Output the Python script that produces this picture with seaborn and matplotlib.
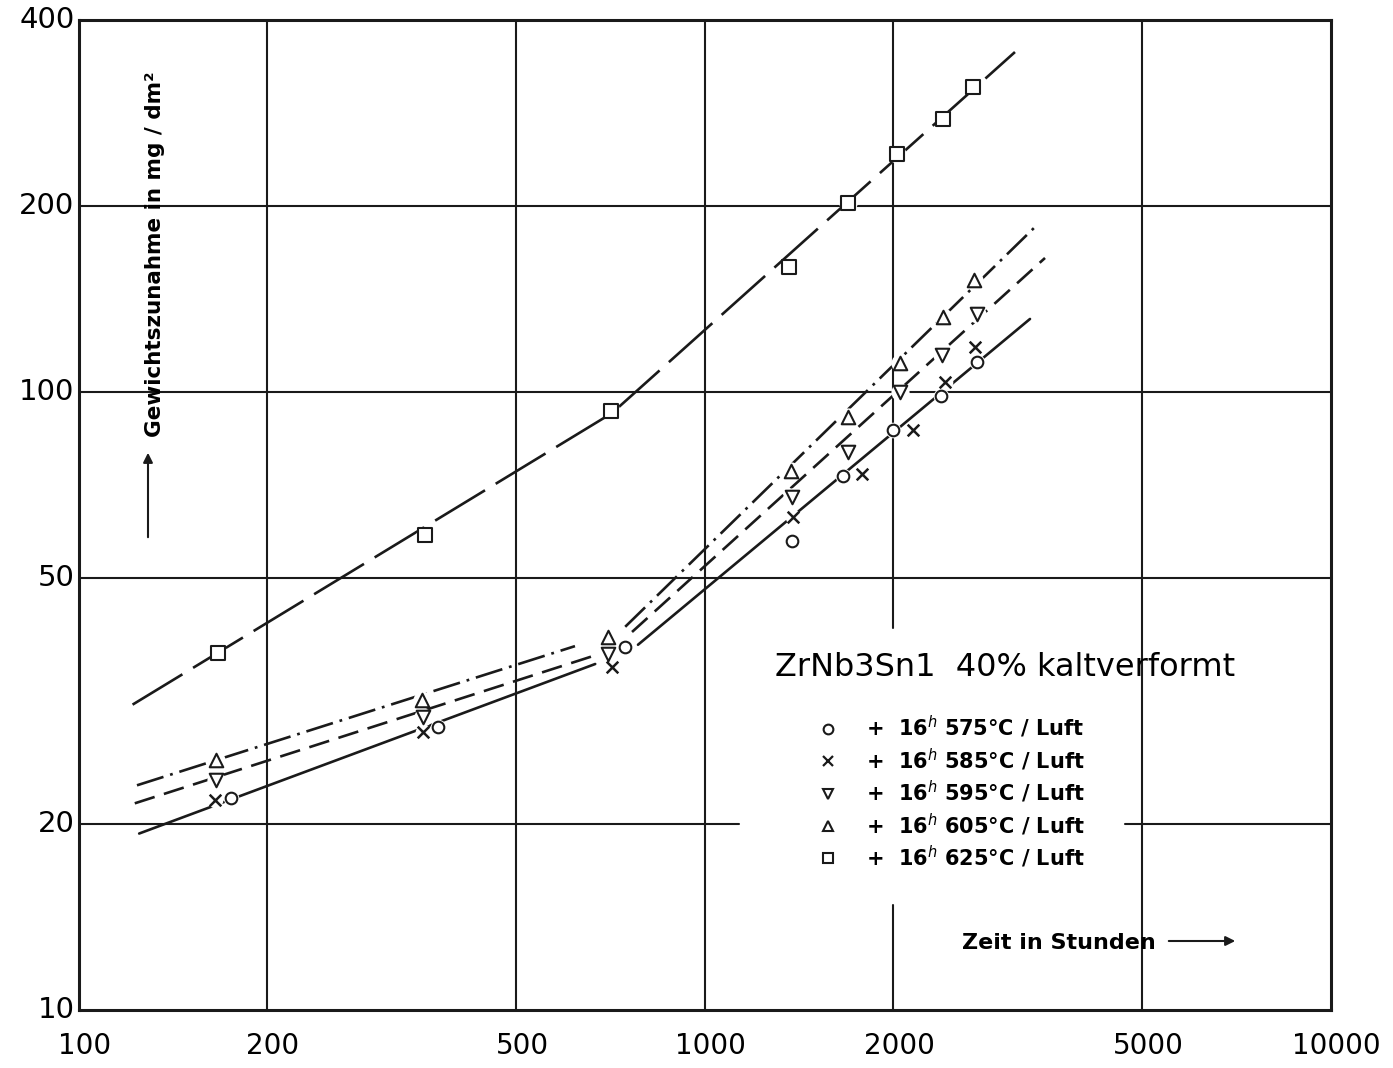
import numpy as np
import pandas as pd
import matplotlib
matplotlib.use("Agg")
import matplotlib.pyplot as plt
import matplotlib.transforms as mtransforms
from matplotlib.lines import Line2D
from matplotlib.font_manager import FontProperties
import seaborn as sns

# ---------------- data ----------------
t_575 = [175, 375, 746, 1380, 1665, 2000, 2386, 2725]
w_575 = [22.0, 28.7, 38.7, 57.4, 73.1, 86.8, 98.5, 111.8]
t_585 = [165, 355, 711, 1385, 1785, 2153, 2423, 2705]
w_585 = [21.9, 28.2, 35.9, 62.8, 73.7, 86.8, 103.8, 118.3]
t_595 = [166, 355, 701, 1380, 1695, 2053, 2395, 2725]
w_595 = [23.6, 29.8, 37.7, 67.6, 80.0, 100.0, 114.8, 133.7]
t_605 = [166, 354, 701, 1375, 1695, 2053, 2404, 2695]
w_605 = [25.4, 31.7, 40.1, 74.5, 91.1, 111.4, 132.2, 151.8]
t_625 = [167, 358, 709, 1365, 1695, 2030, 2404, 2685]
w_625 = [37.8, 58.7, 93.2, 159.3, 202.0, 243.0, 276.6, 311.6]

# fitted lines (segment end points)
fit_575_lo_t = [125, 669]
fit_575_lo_w = [19.3, 36.3]
fit_575_hi_t = [783, 3311]
fit_575_hi_w = [39.0, 131.3]
fit_595_lo_t = [123, 664]
fit_595_lo_w = [21.6, 37.4]
fit_595_hi_t = [766, 3499]
fit_595_hi_w = [40.9, 164.8]
fit_605_lo_t = [124, 621]
fit_605_lo_w = [23.1, 38.8]
fit_605_hi_t = [747, 3397]
fit_605_hi_w = [41.7, 186.3]
fit_625_t = [122, 712, 3133]
fit_625_w = [31.2, 92.5, 355.0]

legend_labels = [r"+  16$^{h}$ 575°C / Luft", r"+  16$^{h}$ 585°C / Luft",
                 r"+  16$^{h}$ 595°C / Luft", r"+  16$^{h}$ 605°C / Luft",
                 r"+  16$^{h}$ 625°C / Luft"]
title_text = "ZrNb3Sn1  40% kaltverformt"
x_ticks = [100, 200, 500, 1000, 2000, 5000, 10000]
x_ticklabels = ["100", "200", "500", "1000", "2000", "5000", "10000"]
y_ticks = [10, 20, 50, 100, 200, 400]
y_ticklabels = ["10", "20", "50", "100", "200", "400"]
x_grid = [200, 500, 1000, 2000, 5000]
y_grid = [20, 50, 100, 200]
xlabel_text = "Zeit in Stunden"
ylabel_text = "Gewichtszunahme in mg / dm²"

# ---------------- style ----------------
sns.set_theme(style="white", rc={"text.color": "black", "axes.labelcolor": "black",
                                 "xtick.color": "black", "ytick.color": "black",
                                 "axes.edgecolor": "black"})
plt.rcParams["font.family"] = ["DejaVu Sans"]
plt.rcParams["lines.scale_dashes"] = False

W, H = 1393, 1068
fig = plt.figure(figsize=(W / 100, H / 100), dpi=100)
fig.patch.set_facecolor("white")
x0, x1, ytop, ybot = 78.5, 1330.5, 20, 1010
ax = fig.add_axes([x0 / W, 1 - ybot / H, (x1 - x0) / W, (ybot - ytop) / H])
ax.set_facecolor("white")
ax.set_xscale("log")
ax.set_yscale("log")
ax.set_xlim(100, 10000)
ax.set_ylim(10, 400)

# grid lines (some interrupted around the legend as in the original)
def yfrac(v):
    return (np.log10(v) - 1) / np.log10(40)

def xfrac(v):
    return (np.log10(v) - 2) / 2

glw = 1.5
for gx in x_grid:
    if gx == 2000:
        ax.axvline(gx, 0, yfrac(14.8), color="k", lw=glw, zorder=1)
        ax.axvline(gx, yfrac(41.5), 1, color="k", lw=glw, zorder=1)
    else:
        ax.axvline(gx, color="k", lw=glw, zorder=1)
for gy in y_grid:
    if gy == 20:
        ax.axhline(gy, 0, xfrac(1137), color="k", lw=glw, zorder=1)
        ax.axhline(gy, xfrac(4696), 1, color="k", lw=glw, zorder=1)
    else:
        ax.axhline(gy, color="k", lw=glw, zorder=1)

for s in ax.spines.values():
    s.set_color("k")
    s.set_linewidth(2.2)

# fitted lines
lw = 1.9
solid = "-"
dashed = (0, (15, 7))
dashdot = (0, (20, 5, 2, 5))
longdash = (0, (42, 9))
segs = [
    (fit_575_lo_t, fit_575_lo_w, solid),
    (fit_575_hi_t, fit_575_hi_w, solid),
    (fit_595_lo_t, fit_595_lo_w, dashed),
    (fit_595_hi_t, fit_595_hi_w, dashed),
    (fit_605_lo_t, fit_605_lo_w, dashdot),
    (fit_605_hi_t, fit_605_hi_w, dashdot),
    (fit_625_t, fit_625_w, longdash),
]
for tx, wy, ls in segs:
    sns.lineplot(x=tx, y=wy, ax=ax, color="k", lw=lw, linestyle=ls,
                 estimator=None, sort=False, zorder=2)

# markers with white halos (cut the fitted lines like in the original)
series = [
    (t_575, w_575, "o", 70),
    (t_585, w_585, "x", 70),
    (t_595, w_595, "v", 95),
    (t_605, w_605, "^", 95),
    (t_625, w_625, "s", 95),
]
for tx, wy, m, s in series:
    sns.scatterplot(x=tx, y=wy, ax=ax, marker="o", s=s * 1.8, color="white",
                    edgecolor="white", linewidth=0, zorder=2.5)
for tx, wy, m, s in series:
    if m == "x":
        sns.scatterplot(x=tx, y=wy, ax=ax, marker="x", s=s, color="k",
                        linewidth=1.8, zorder=4)
    else:
        sns.scatterplot(x=tx, y=wy, ax=ax, marker=m, s=s, facecolor="white",
                        edgecolor="k", linewidth=1.5, zorder=4)

# ticks
ax.set_xticks(x_ticks)
ax.set_xticklabels(x_ticklabels)
ax.set_yticks(y_ticks)
ax.set_yticklabels(y_ticklabels)
ax.minorticks_off()
ax.tick_params(axis="both", length=0)
ax.tick_params(axis="x", pad=16)
ax.tick_params(axis="y", pad=3)
for lab in ax.get_xticklabels():
    lab.set_fontsize(20)
    lab.set_transform(lab.get_transform() +
                      mtransforms.ScaledTranslation(6 / 100, 0, fig.dpi_scale_trans))
for lab in ax.get_yticklabels():
    lab.set_fontsize(21)
    lab.set_verticalalignment("center")

ax.set_xlabel("")
ax.set_ylabel("")

# axis captions with arrows
fig.text(155 / W, 1 - 437 / H, ylabel_text, rotation=90, ha="center", va="bottom",
         fontsize=15.5, fontweight="bold")
ax.annotate("", xy=(148 / W, 1 - 450 / H), xytext=(148 / W, 1 - 540 / H),
            xycoords="figure fraction", textcoords="figure fraction",
            arrowprops=dict(arrowstyle="-|>", color="k", lw=1.5, mutation_scale=14))
fig.text(962 / W, 1 - 943 / H, xlabel_text, ha="left", va="center",
         fontsize=16, fontweight="bold")
ax.annotate("", xy=(1238 / W, 1 - 941 / H), xytext=(1166 / W, 1 - 941 / H),
            xycoords="figure fraction", textcoords="figure fraction",
            arrowprops=dict(arrowstyle="-|>", color="k", lw=1.5, mutation_scale=14))

# legend
fig.text(775 / W, 1 - 667 / H, title_text, ha="left", va="center", fontsize=23)
handles = []
for tx, wy, m, s in series:
    if m == "x":
        handles.append(Line2D([], [], ls="none", marker="x", ms=7, mec="k", mew=1.6))
    else:
        handles.append(Line2D([], [], ls="none", marker=m, ms=7, mfc="white",
                              mec="k", mew=1.5))
leg = fig.legend(handles, legend_labels, loc="upper left",
                 bbox_to_anchor=(818 / W, 1 - 714 / H), bbox_transform=fig.transFigure,
                 frameon=False, prop=FontProperties(weight="bold", size=15),
                 handlelength=1.0, handletextpad=1.3, labelspacing=0.3,
                 borderpad=0, borderaxespad=0)

fig.savefig("out.png", dpi=100, facecolor="white")
